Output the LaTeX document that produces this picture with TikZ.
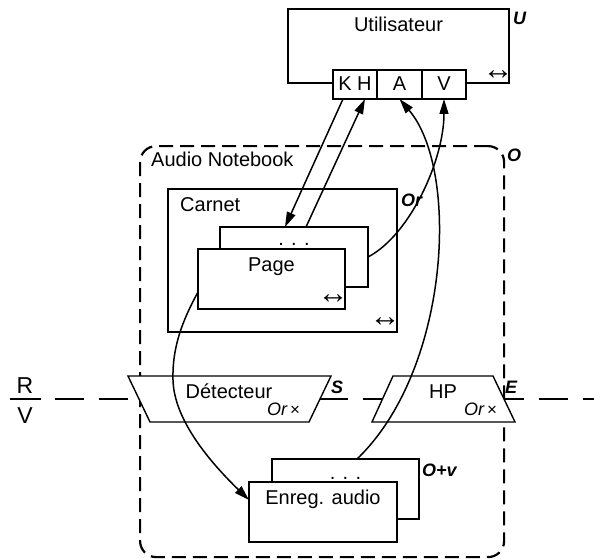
\documentclass[tikz,border=0pt]{standalone}
\usepackage{fontspec}
\setmainfont{Liberation Sans}
\usetikzlibrary{arrows.meta}
\begin{document}
\begin{tikzpicture}[x=1pt,y=-1pt,
  box/.style={draw,line width=1.4pt,fill=white,inner sep=0pt,outer sep=0pt,anchor=north west},
  lbl/.style={inner sep=0pt,anchor=base,font=\fontsize{20}{24}\selectfont},
  lblw/.style={inner sep=0pt,anchor=base west,font=\fontsize{20}{24}\selectfont},
  tag/.style={inner sep=0pt,anchor=base west,font=\fontsize{18}{21}\selectfont\bfseries\itshape},
  sm/.style={inner sep=0pt,anchor=base west,font=\fontsize{18}{21}\selectfont\itshape},
  dbl/.style={inner sep=0pt,font=\fontsize{31}{34}\selectfont},
  big/.style={inner sep=0pt,anchor=base,font=\fontsize{23}{26}\selectfont},
  arr/.style={line width=1.5pt,-{Triangle[length=15pt,width=9pt]}},
  dashbox/.style={line width=2.2pt,dash pattern=on 14pt off 7pt},
  trap/.style={draw,line width=1.4pt,fill=white},
]
\useasboundingbox (0,0) rectangle (594,559);

% Audio Notebook dashed container
\node[draw,dashbox,rounded corners=16pt,minimum width=364pt,minimum height=411pt,
      anchor=north west,inner sep=0pt] (nb) at (139,145) {};

% R / V divider
\node[big] (r) at (25,393) {R};
\node[big] (vv) at (25,423) {V};
\draw[line width=2.2pt] (10,399) -- (41,399);
\coordinate (rvstart) at (55,399);
\coordinate (rvend) at (594,399);
\draw[line width=2.2pt,dash pattern=on 29pt off 15pt] (rvstart) -- (rvend);

% trapezoids
\draw[trap] (128,376) -- (331,376) -- (309,422) -- (150,422) -- cycle;
\draw[trap] (393,376) -- (493,376) -- (515,422) -- (372,422) -- cycle;

% Utilisateur
\node[box,minimum width=221pt,minimum height=74pt] (user) at (288,9) {};
\node[box,minimum width=44pt,minimum height=29pt] (kh) at (333,70) {};
\node[box,minimum width=45pt,minimum height=29pt] (a) at (377,70) {};
\node[box,minimum width=44pt,minimum height=29pt] (v) at (422,70) {};

% Carnet and pages
\node[box,minimum width=229pt,minimum height=143pt] (carnet) at (168,189) {};
\node[box,minimum width=148pt,minimum height=60pt] (pback) at (220,227) {};
\node[box,minimum width=147pt,minimum height=60pt] (pfront) at (198,249) {};

% Enreg. audio
\node[box,minimum width=147pt,minimum height=60pt] (eback) at (272,459) {};
\node[box,minimum width=148pt,minimum height=60pt] (efront) at (249,482) {};

% texts
\node[lbl] (tuser) at (398.5,32) {Utilisateur};
\node[lbl] (tkh) at (355,91) {K H};
\node[lbl] (ta) at (399.5,91) {A};
\node[lbl] (tv) at (444,91) {V};
\node[lblw] (tnb) at (151,166) {Audio Notebook};
\node[lblw] (tcarnet) at (180,211) {Carnet};
\node[lbl] (tdots1) at (294,245) {. . .};
\node[lbl] (tpage) at (271.5,271) {Page};
\node[lbl] (tdots2) at (345.5,479) {. . .};
\node[lbl] (tenreg) at (323,504) {Enreg. audio};
\node[lbl] (tdet) at (229,398) {Détecteur};
\node[lbl] (thp) at (443,398) {HP};
\node[sm] (tor1) at (267,415) {Or\,{\upshape\fontsize{17}{19}\selectfont ×}};
\node[sm] (tor2) at (464,415) {Or\,{\upshape\fontsize{17}{19}\selectfont ×}};

\node[tag] (tU) at (513,25) {U};
\node[tag] (tO) at (507,161) {O};
\node[tag] (tOr) at (401,206) {Or};
\node[tag] (tS) at (331,393) {S};
\node[tag] (tE) at (505,393) {E};
\node[tag] (tOv) at (422,476) {O+v};

\node[dbl] (lr1) at (498,75) {↔};
\node[dbl] (lr2) at (333,299) {↔};
\node[dbl] (lr3) at (385,322) {↔};

% connectors
\draw[arr] ([shift={(10,0)}]kh.south west) -- ([shift={(65,0)}]pback.north west);
\draw[arr] ([shift={(86,0)}]pback.north west) -- ([shift={(32,0)}]kh.south west);
\draw[arr] ([shift={(85,0)}]eback.north west) .. controls (450,370) and (460,170) .. (a.south);
\draw[arr] (pback.east) .. controls (410,235) and (444,160) .. (v.south);
\draw[arr] ([shift={(0,-17)}]pfront.south west) .. controls (184,318) and (172,345) .. (173,380)
   .. controls (174,420) and (210,462) .. ([shift={(0,18)}]efront.north west);
\end{tikzpicture}
\end{document}
